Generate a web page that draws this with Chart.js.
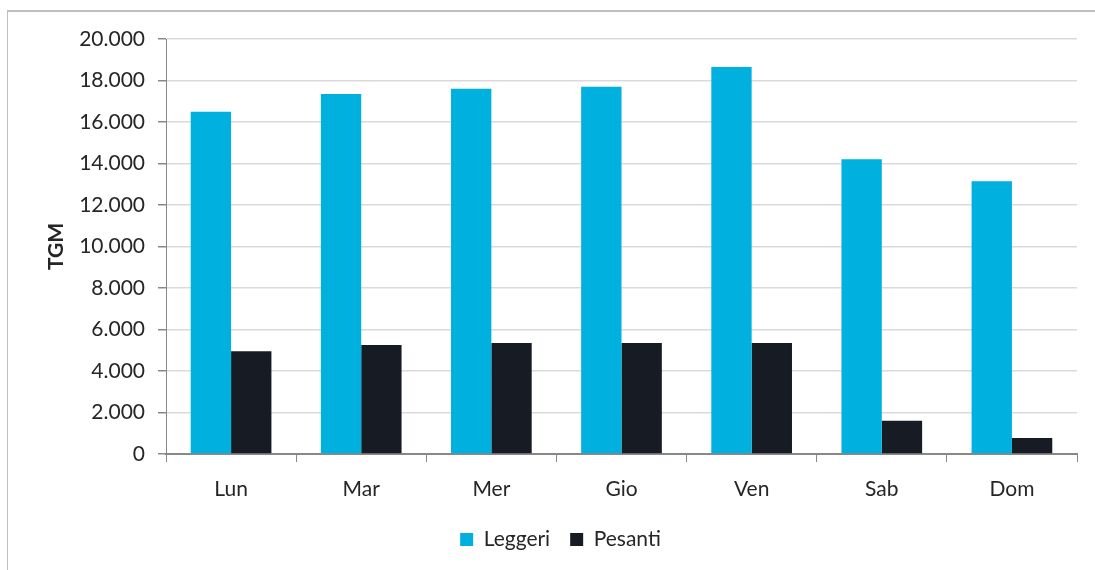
<!DOCTYPE html>
<html>
<head>
<meta charset="utf-8">
<script src="https://cdn.jsdelivr.net/npm/chart.js@4"></script>
<style>
    html, body { margin: 0; padding: 0; background: #fff; }
    #wrap { position: relative; width: 1095px; height: 570px; }
    #frame { position: absolute; left: 7px; top: 10px; right: 0; bottom: -10px;
             border-top: 2px solid #bfbfbf; border-left: 1px solid #bfbfbf; }
    canvas { position: absolute; left: 0; top: 0; }
</style>
</head>
<body>
<div id="wrap">
    <div id="frame"></div>
    <canvas id="main-chart" width="1095" height="570"></canvas>
</div>
<script>
const days = ['Lun', 'Mar', 'Mer', 'Gio', 'Ven', 'Sab', 'Dom'];
const leggeri = [16500, 17350, 17600, 17700, 18650, 14200, 13150];
const pesanti = [4950, 5250, 5350, 5350, 5350, 1600, 770];
const yTicks = [0, 2000, 4000, 6000, 8000, 10000, 12000, 14000, 16000, 18000, 20000];

// 20000 -> "20.000"
const fmt = v => String(v).replace(/\B(?=(\d{3})+(?!\d))/g, '.');

const fontFamily = 'Lato, "Open Sans", sans-serif';
const textColor = '#262626';

const displayChart = () => {
    const ctx = document.getElementById("main-chart").getContext("2d");
    let _ = new Chart(ctx, {
        type: 'bar',
        data: {
            labels: days,
            datasets: [{
                label: 'Leggeri',
                data: leggeri,
                backgroundColor: '#00b0de'
            }, {
                label: 'Pesanti',
                data: pesanti,
                backgroundColor: '#171c24'
            }]
        },
        options: {
            responsive: false,
            animation: false,
            categoryPercentage: 0.62,
            barPercentage: 1,
            // left padding moves the legend centre to match; y axis width makes up for it
            layout: { padding: { left: 44, top: 39, right: 18, bottom: 10 } },
            plugins: {
                tooltip: { enabled: false },
                legend: {
                    position: 'bottom',
                    labels: {
                        boxWidth: 13,
                        boxHeight: 13,
                        padding: 20,
                        color: textColor,
                        font: { family: fontFamily, size: 21 }
                    }
                }
            },
            scales: {
                x: {
                    afterFit: scale => { scale.height = 55; },
                    grid: {
                        drawOnChartArea: false,
                        drawTicks: true,
                        tickLength: 8,
                        tickColor: '#888888'
                    },
                    border: { color: '#888888', width: 2 },
                    ticks: {
                        padding: 15,
                        color: textColor,
                        font: { family: fontFamily, size: 21 }
                    }
                },
                y: {
                    min: 0,
                    max: 20000,
                    afterFit: scale => { scale.width = 122; },
                    afterBuildTicks: scale => { scale.ticks = yTicks.map(v => ({ value: v })); },
                    grid: {
                        color: '#dadada',
                        lineWidth: 1.5,
                        tickLength: 8,
                        tickColor: '#888888'
                    },
                    border: { color: '#888888', width: 1 },
                    title: {
                        display: true,
                        text: 'TGM',
                        color: textColor,
                        font: { family: fontFamily, size: 21, weight: 'bold' },
                        padding: { top: 0, bottom: 0 }
                    },
                    ticks: {
                        padding: 13,
                        color: textColor,
                        font: { family: fontFamily, size: 21 },
                        callback: v => fmt(v)
                    }
                }
            }
        }
    });
};
displayChart();
</script>
</body>
</html>
